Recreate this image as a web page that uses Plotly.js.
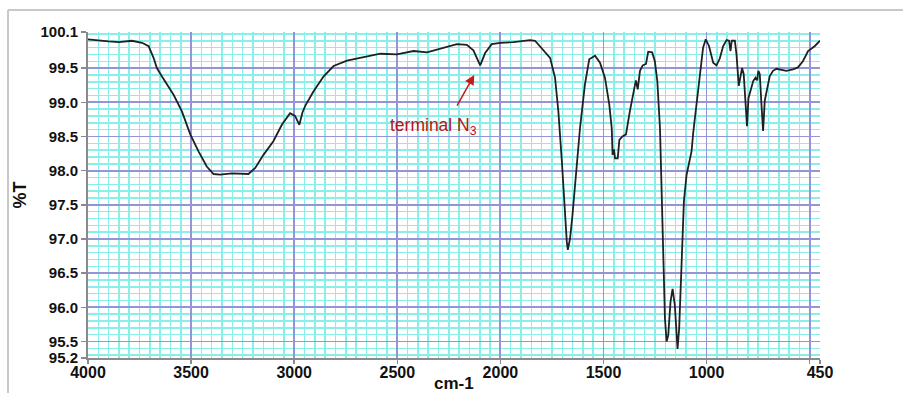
<!DOCTYPE html>
<html>
<head>
<meta charset="utf-8">
<script src="https://cdn.plot.ly/plotly-3.0.1.min.js"></script>
<style>html,body{margin:0;padding:0;background:#fff;}#chart{width:903px;height:393px;}</style>
</head>
<body>
<div id="chart"></div>
<script>
// Wavenumber (cm-1) and transmittance (%T)
var wavenumbers = [4000,3950,3900,3850,3787,3738,3706,3682,3666,3642,3585,3545,3504,3464,3424,3391,3359,3303,3222,3189,3149,3101,3060,3020,2996,2975,2960,2946,2906,2857,2809,2744,2663,2582,2502,2421,2356,2308,2259,2211,2163,2131,2098,2074,2042,2001,1937,1856,1832,1792,1759,1735,1719,1702,1691,1678,1673,1662,1651,1638,1614,1590,1569,1541,1517,1493,1472,1460,1456,1449,1444,1431,1423,1408,1391,1372,1351,1343,1334,1323,1310,1294,1283,1264,1251,1239,1226,1217,1210,1202,1194,1186,1175,1165,1154,1146,1141,1133,1122,1110,1097,1073,1065,1050,1036,1017,1004,988,968,952,936,920,903,891,884,878,863,855,844,836,828,820,810,804,797,787,774,763,755,749,742,734,726,718,707,694,678,661,613,581,557,533,508,476,450];
var transmittance = [99.92,99.90,99.89,99.88,99.90,99.87,99.82,99.65,99.50,99.38,99.11,98.87,98.53,98.28,98.06,97.95,97.94,97.96,97.95,98.04,98.23,98.43,98.67,98.84,98.80,98.67,98.85,98.95,99.16,99.38,99.53,99.61,99.66,99.71,99.70,99.75,99.73,99.77,99.81,99.85,99.84,99.76,99.54,99.72,99.85,99.87,99.88,99.91,99.90,99.77,99.65,99.36,98.87,98.14,97.55,96.96,96.84,97.01,97.33,97.79,98.62,99.26,99.63,99.68,99.58,99.36,98.97,98.62,98.23,98.31,98.18,98.18,98.45,98.50,98.53,98.87,99.24,99.32,99.19,99.46,99.54,99.56,99.74,99.73,99.60,99.31,98.62,97.65,96.67,95.84,95.50,95.59,96.08,96.27,96.03,95.59,95.39,95.69,96.67,97.55,97.94,98.28,98.55,98.95,99.36,99.80,99.92,99.82,99.58,99.54,99.64,99.82,99.91,99.90,99.75,99.90,99.90,99.70,99.24,99.36,99.50,99.41,98.97,98.65,99.06,99.16,99.31,99.36,99.32,99.46,99.41,98.97,98.58,99.02,99.19,99.38,99.46,99.49,99.46,99.48,99.51,99.60,99.75,99.82,99.90];

var xTickVals = [4000,3500,3000,2500,2000,1500,1000,500,450];
var xTickText = ["4000","3500","3000","2500","2000","1500","1000","","450"];
var yTop = 100.028, yBottom = 95.258;
var yTickVals = [yTop,99.5,99.0,98.5,98.0,97.5,97.0,96.5,96.0,95.5,yBottom];
var yTickText = ["100.1","99.5","99.0","98.5","98.0","97.5","97.0","96.5","96.0","95.5","95.2"];

var xTitle = 'cm-1';
var yTitle = '%T';
var annotationLabel = "terminal N<sub>3</sub>";
var annotationPoint = [2127, 99.40];
var annotationTail = [2214, 98.93];
var annotationTextPos = [2326, 98.64];

var major = '#9494d6', minorCol = '#8aefe8', axisCol = '#8a8a8a';
var font = 'Liberation Sans, Arial, Helvetica, sans-serif';

var trace = {
  x: wavenumbers, y: transmittance, type: 'scatter', mode: 'lines',
  line: {color: '#202020', width: 1.8}, hoverinfo: 'skip'
};

var layout = {
  width: 903, height: 393,
  margin: {l: 88, r: 83, t: 32, b: 35},
  paper_bgcolor: '#ffffff', plot_bgcolor: '#ffffff',
  showlegend: false,
  font: {family: font, color: '#111'},
  xaxis: {
    range: [4000, 450], tickmode: 'array', tickvals: xTickVals, ticktext: xTickText,
    showgrid: true, gridcolor: major, gridwidth: 1.8,
    minor: {tickmode: 'linear', tick0: 0, dtick: 50, showgrid: true, gridcolor: minorCol, gridwidth: 1.5, ticks: ''},
    showline: true, linecolor: axisCol, linewidth: 2,
    ticks: 'outside', ticklen: 4, tickwidth: 1.5, tickcolor: axisCol,
    ticklabelstandoff: -5,
    tickfont: {family: font, size: 16, color: '#111', weight: 700},
    zeroline: false, automargin: false
  },
  yaxis: {
    range: [yBottom, yTop], tickmode: 'array', tickvals: yTickVals, ticktext: yTickText,
    showgrid: true, gridcolor: major, gridwidth: 1.8,
    minor: {tickmode: 'linear', tick0: 0, dtick: 0.1, showgrid: true, gridcolor: minorCol, gridwidth: 1.5, ticks: ''},
    showline: true, linecolor: axisCol, linewidth: 2,
    ticks: 'outside', ticklen: 5, tickwidth: 1.5, tickcolor: axisCol,
    tickfont: {family: font, size: 15, color: '#111', weight: 700},
    zeroline: false, automargin: false,
    title: {text: yTitle, font: {family: font, size: 18, color: '#111', weight: 700}, standoff: 9}
  },
  shapes: [
    {type: 'line', xref: 'paper', yref: 'paper', x0: -0.1093, x1: 1.12, y0: 1.0675, y1: 1.0675, line: {color: '#c8c8c8', width: 2}},
    {type: 'line', xref: 'paper', yref: 'paper', x0: -0.1093, x1: -0.1093, y0: 1.0675, y1: -0.12, line: {color: '#c8c8c8', width: 2}}
  ],
  annotations: [
    {x: annotationPoint[0], y: annotationPoint[1], ax: annotationTail[0], ay: annotationTail[1], axref: 'x', ayref: 'y', xref: 'x', yref: 'y',
     text: '', showarrow: true, arrowhead: 2, arrowsize: 1.3, arrowwidth: 1.5, arrowcolor: '#c41a1a', standoff: 0},
    {x: annotationTextPos[0], y: annotationTextPos[1], xref: 'x', yref: 'y', text: annotationLabel, showarrow: false,
     font: {family: font, size: 17.5, color: '#b81414'}},
    {x: 0.5, y: 0, xref: 'paper', yref: 'paper', yshift: -25, text: xTitle, showarrow: false, yanchor: 'middle', borderpad: 0,
     font: {family: font, size: 17, color: '#111', weight: 700}}
  ]
};

Plotly.newPlot('chart', [trace], layout, {staticPlot: true, displayModeBar: false});
</script>
</body>
</html>
